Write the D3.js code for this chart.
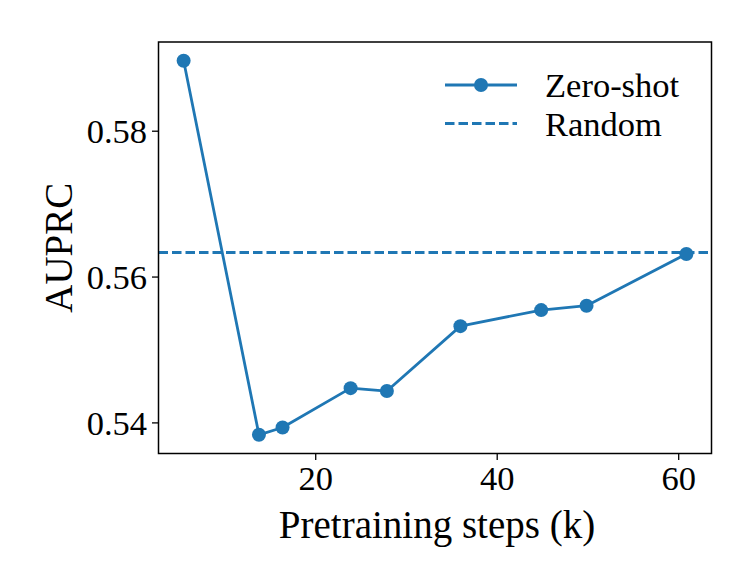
<!DOCTYPE html>
<html>
<head>
<meta charset="utf-8">
<script src="https://cdn.jsdelivr.net/npm/d3@7"></script>
<style>
  body { margin: 0; background: #fff; }
  svg text { font-family: "Liberation Serif", "Times New Roman", serif; fill: #000; }
</style>
</head>
<body>
<svg id="chart" width="753" height="586"></svg>
<script>
// Data
const steps = [5.5, 13.8, 16.4, 23.9, 27.9, 36.0, 44.9, 49.9, 60.9];
const auprc = [0.5896, 0.5383, 0.5393, 0.5447, 0.5443, 0.5532, 0.5554, 0.5560, 0.5631];
const randomBaseline = 0.5633;
const xTicks = [20, 40, 60];
const yTicks = [0.54, 0.56, 0.58];
const seriesNames = ["Zero-shot", "Random"];
const xLabel = "Pretraining steps (k)";
const yLabel = "AUPRC";

const color = "#1f77b4";
const m = { left: 158.5, right: 711.5, top: 42, bottom: 453.5 };
const lw = 2.8;

const svg = d3.select("#chart");

const xExt = d3.extent(steps);
const yExt = d3.extent(auprc.concat([randomBaseline]));
const xPad = (xExt[1] - xExt[0]) * 0.05;
const yPad = (yExt[1] - yExt[0]) * 0.05;

const x = d3.scaleLinear().domain([xExt[0] - xPad, xExt[1] + xPad]).range([m.left, m.right]);
const y = d3.scaleLinear().domain([yExt[0] - yPad, yExt[1] + yPad]).range([m.bottom, m.top]);

// Axes
const xAxis = d3.axisBottom(x).tickValues(xTicks).tickSize(6.5).tickPadding(6).tickFormat(d3.format("d"));
const yAxis = d3.axisLeft(y).tickValues(yTicks).tickSize(6.5).tickPadding(5).tickFormat(d3.format(".2f"));

const gx = svg.append("g").attr("transform", `translate(0,${m.bottom})`).call(xAxis);
const gy = svg.append("g").attr("transform", `translate(${m.left},0)`).call(yAxis);
[gx, gy].forEach(g => {
  g.select(".domain").remove();
  g.selectAll(".tick line").attr("stroke", "#000").attr("stroke-width", 1.3);
  g.selectAll(".tick text").style("font-size", "34.5px").attr("fill", "#000");
});
gx.selectAll(".tick text").attr("dy", "0.71em");
gy.selectAll(".tick text").attr("dy", "0.34em");

// Random baseline
svg.append("line")
  .attr("x1", m.left).attr("x2", m.right)
  .attr("y1", y(randomBaseline)).attr("y2", y(randomBaseline))
  .attr("stroke", color).attr("stroke-width", lw)
  .attr("stroke-dasharray", "9.5,4");

// Zero-shot line
const pts = steps.map((s, i) => [s, auprc[i]]);
svg.append("path")
  .datum(pts)
  .attr("fill", "none")
  .attr("stroke", color)
  .attr("stroke-width", lw)
  .attr("stroke-linejoin", "round")
  .attr("d", d3.line().x(d => x(d[0])).y(d => y(d[1])));

svg.append("g").selectAll("circle")
  .data(pts).join("circle")
  .attr("cx", d => x(d[0])).attr("cy", d => y(d[1]))
  .attr("r", 7).attr("fill", color);

// Frame
svg.append("rect")
  .attr("x", m.left).attr("y", m.top)
  .attr("width", m.right - m.left).attr("height", m.bottom - m.top)
  .attr("fill", "none").attr("stroke", "#000").attr("stroke-width", 1.5);

// Axis labels
svg.append("text")
  .attr("x", (m.left + m.right) / 2 + 2).attr("y", 538)
  .attr("text-anchor", "middle")
  .style("font-size", "39px")
  .text(xLabel);

svg.append("text")
  .attr("transform", `translate(72,${(m.top + m.bottom) / 2}) rotate(-90)`)
  .attr("text-anchor", "middle")
  .style("font-size", "39px")
  .text(yLabel);

// Legend
const leg = svg.append("g");
leg.append("line").attr("x1", 445).attr("x2", 517).attr("y1", 85).attr("y2", 85)
  .attr("stroke", color).attr("stroke-width", lw);
leg.append("circle").attr("cx", 481).attr("cy", 85).attr("r", 7).attr("fill", color);
leg.append("text").attr("x", 545).attr("y", 97).style("font-size", "34.5px").text(seriesNames[0]);

leg.append("line").attr("x1", 445).attr("x2", 517).attr("y1", 123.5).attr("y2", 123.5)
  .attr("stroke", color).attr("stroke-width", lw).attr("stroke-dasharray", "9.5,4");
leg.append("text").attr("x", 545).attr("y", 135.5).style("font-size", "34.5px").text(seriesNames[1]);
</script>
</body>
</html>
